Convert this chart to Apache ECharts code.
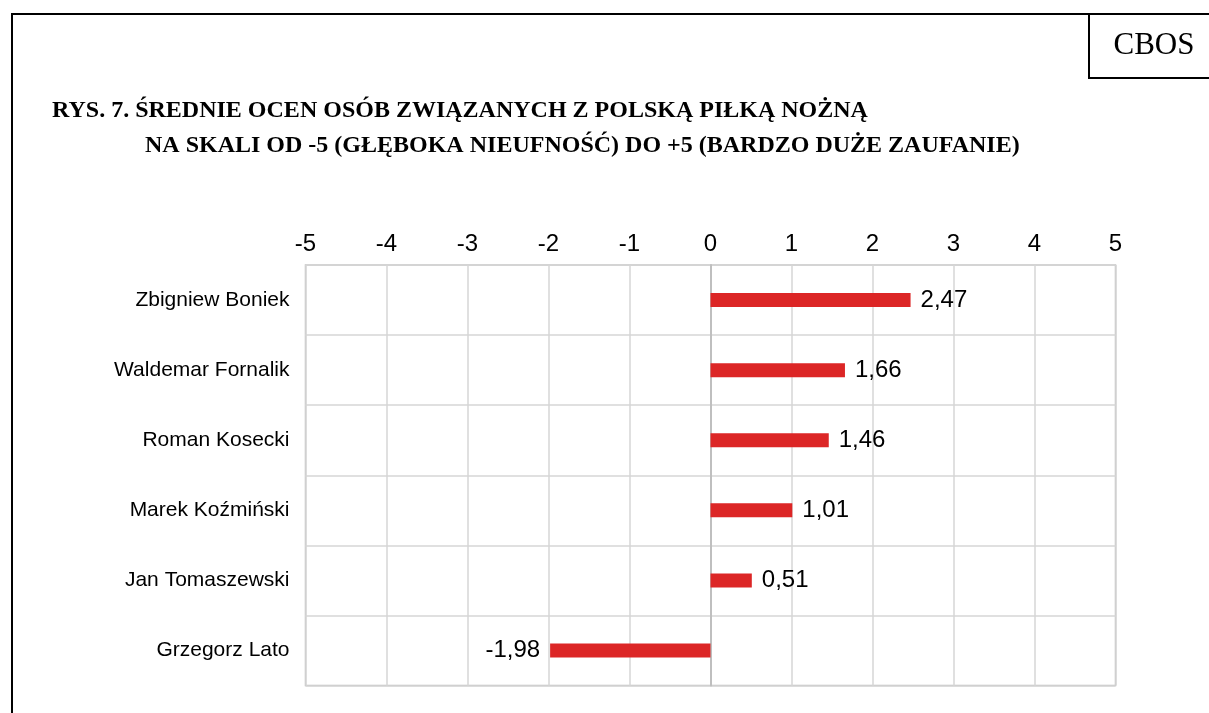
<!DOCTYPE html>
<html><head><meta charset="utf-8">
<script src="https://cdn.jsdelivr.net/npm/echarts@6/dist/echarts.min.js"></script>
<style>html,body{margin:0;padding:0;background:#fff}#c{width:1209px;height:713px}</style>
</head><body><div id="c"></div>
<script>
const categories = ['Zbigniew Boniek','Waldemar Fornalik','Roman Kosecki','Marek Koźmiński','Jan Tomaszewski','Grzegorz Lato'];
const values = [2.47, 1.66, 1.46, 1.01, 0.51, -1.98];
const xTicks = [-5,-4,-3,-2,-1,0,1,2,3,4,5];
const titleLine1a = 'RYS. 7. ';
const titleLine1b = 'ŚREDNIE OCEN OSÓB ZWIĄZANYCH Z POLSKĄ PIŁKĄ NOŻNĄ';
const titleLine2 = 'NA SKALI OD -5 (GŁĘBOKA NIEUFNOŚĆ) DO +5 (BARDZO DUŻE ZAUFANIE)';
const sourceLabel = 'CBOS';

const chart = echarts.init(document.getElementById('c'), null, {renderer:'canvas'});
const fmt = v => String(v.toFixed(2)).replace('.', ',');
chart.setOption({
  backgroundColor:'#fff',
  animation:false,
  title:[
    {left:47, top:94, text:'{n|'+titleLine1a+'}{b|'+titleLine1b+'}',
     textStyle:{rich:{n:{fontFamily:'Liberation Serif',fontSize:24,color:'#000'},b:{fontFamily:'Liberation Serif',fontSize:24,fontWeight:'bold',color:'#000'}}}},
    {left:140, top:129, text:titleLine2,
     textStyle:{fontFamily:'Liberation Serif',fontSize:24,fontWeight:'bold',color:'#000'}}
  ],
  graphic:[
    {type:'rect', shape:{x:12,y:14,width:1300,height:800}, style:{fill:'none',stroke:'#000',lineWidth:2}, silent:true},
    {type:'rect', shape:{x:1089,y:14,width:200,height:64}, style:{fill:'none',stroke:'#000',lineWidth:2}, silent:true},
    {type:'text', x:1154, y:46, style:{text:sourceLabel, fontFamily:'Liberation Serif', fontSize:31, fill:'#000', align:'center', verticalAlign:'middle'}}
  ],
  grid:{left:305.5, right:93.5, top:265, bottom:27.5, show:true, borderColor:'#c0c0c0', borderWidth:1.5, containLabel:false},
  xAxis:{type:'value', position:'top', min:-5, max:5, interval:1,
    axisLine:{show:false}, axisTick:{show:false},
    axisLabel:{fontFamily:'Liberation Sans', fontSize:24, color:'#000', margin:9, formatter:v=>xTicks.includes(v)?String(v):''},
    splitLine:{show:true, lineStyle:{color:'#d6d6d6', width:1.5}}},
  yAxis:{type:'category', inverse:true, data:categories,
    axisLine:{show:true, onZero:true, lineStyle:{color:'#bfbfbf', width:2}}, axisTick:{show:false},
    axisLabel:{fontFamily:'Liberation Sans', fontSize:21, color:'#000', margin:16},
    splitLine:{show:true, lineStyle:{color:'#d6d6d6', width:1.5}}},
  series:[{type:'bar', barWidth:14, itemStyle:{color:'#dc2626'},
    data:values.map(v=>({value:v,label:{position:v<0?'left':'right'}})),
    label:{show:true, fontFamily:'Liberation Sans', fontSize:24, color:'#000', distance:10,
      formatter:p=>fmt(p.value)}}]
});
</script></body></html>
